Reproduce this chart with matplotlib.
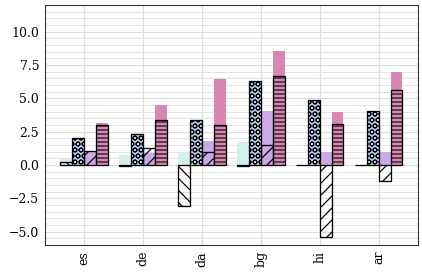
import numpy as np
import matplotlib
matplotlib.use("Agg")
import matplotlib.pyplot as plt
from matplotlib.ticker import MultipleLocator

langs = ["es", "de", "da", "bg", "hi", "ar"]

# background (pastel) bars
s1_back = [0.42, 0.72, 0.96, 1.68, 0.0, 0.0]
s2_back = [2.0, 2.29, 3.4, 6.33, 4.9, 4.02]
s3_back = [1.06, 0.88, 1.79, 4.03, 0.96, 0.96]
s4_back = [3.14, 4.52, 6.48, 8.53, 3.97, 7.0]

# hatched (outlined) bars
s1_front = [0.2, -0.1, -3.1, -0.1, 0.0, 0.0]
s2_front = [2.0, 2.29, 3.4, 6.33, 4.9, 4.02]
s3_front = [1.02, 1.25, 0.96, 1.52, -5.38, -1.22]
s4_front = [2.97, 3.35, 3.02, 6.68, 3.1, 5.65]

colors = ["#d3f0ec", "#bccbea", "#caa9e4", "#d886b2"]
hatches = ["\\\\", "OO", "//", "---"]
front_faces = ["none", "#bccbea", "none", "#d886b2"]
hatch_lw = [1.2, 0.8, 1.2, 1.1]

plt.rcParams["font.family"] = "DejaVu Serif"
plt.rcParams["hatch.linewidth"] = 1.1

fig, ax = plt.subplots(figsize=(422 / 72, 273 / 72), dpi=72)
fig.subplots_adjust(left=0.107, right=0.99, top=0.982, bottom=0.103)

x = np.arange(len(langs))
w = 0.2
back = [s1_back, s2_back, s3_back, s4_back]
front = [s1_front, s2_front, s3_front, s4_front]

for i in range(4):
    pos = x + (i - 1.5) * w
    ax.bar(pos, back[i], w, color=colors[i], linewidth=0, zorder=2)
    bars = ax.bar(pos, front[i], w, facecolor=front_faces[i], edgecolor="black",
                  hatch=hatches[i], linewidth=1.3, zorder=3)
    for b in bars:
        if hasattr(b, "set_hatch_linewidth"):
            b.set_hatch_linewidth(hatch_lw[i])

ax.set_xticks(x)
ax.set_xticklabels(langs, rotation=90, fontsize=12.5)
ax.set_xlim(-0.66, 5.66)
ax.set_ylim(-6, 12)
ax.yaxis.set_major_locator(MultipleLocator(2.5))
ax.yaxis.set_minor_locator(MultipleLocator(0.5))
ax.tick_params(axis="y", labelsize=12.5)
ax.tick_params(which="both", length=0, pad=6)

ax.grid(axis="y", which="minor", color="#e3e3e3", linewidth=1.0, zorder=0)
ax.grid(axis="y", which="major", color="#dcdcdc", linewidth=1.1, zorder=0)
ax.grid(axis="x", which="major", color="#dcdcdc", linewidth=1.2, zorder=0)
ax.set_axisbelow(True)

for sp in ax.spines.values():
    sp.set_color("#333333")
    sp.set_linewidth(1.1)

fig.savefig("out.png", dpi=72)
